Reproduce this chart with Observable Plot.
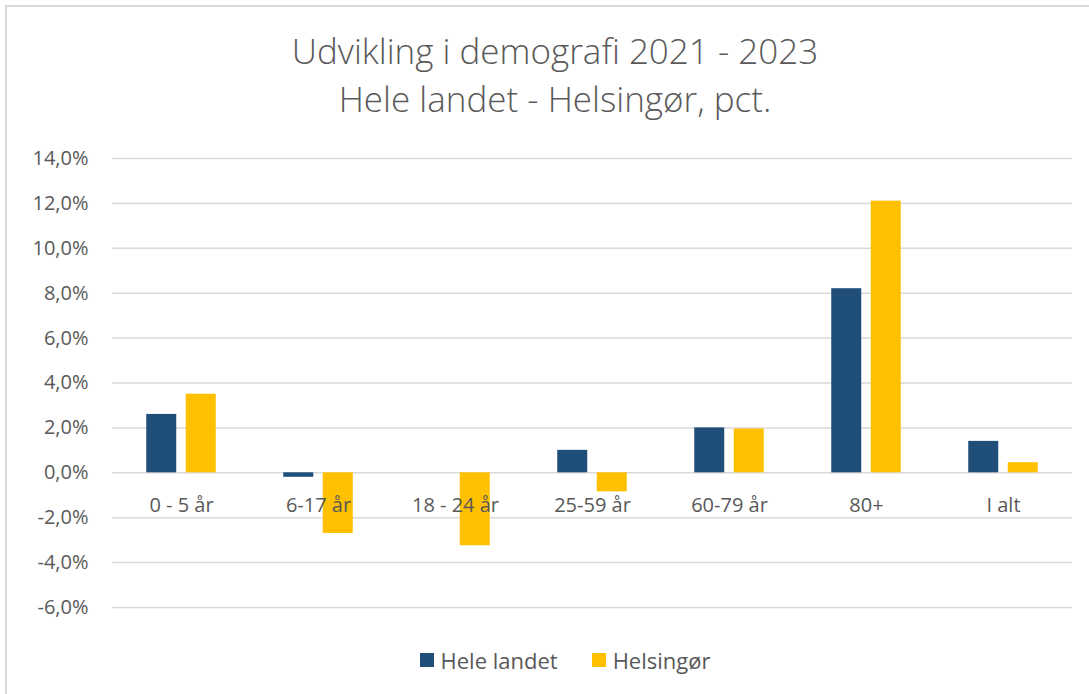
<!DOCTYPE html>
<html>
<head>
<meta charset="utf-8">
<script src="https://cdn.jsdelivr.net/npm/d3@7"></script>
<script src="https://cdn.jsdelivr.net/npm/@observablehq/plot@0.6"></script>
<style>
  html, body { margin: 0; padding: 0; background: #fff; }
  #chart { position: relative; width: 1089px; height: 694px; overflow: hidden; font-family: "Open Sans", Lato, sans-serif; color: #595959; }
  #frame { position: absolute; left: 5px; top: 5px; right: -10px; bottom: -10px; border-left: 2px solid #d9d9d9; border-top: 2px solid #d9d9d9; }
  #title { position: absolute; left: 0; width: 1110px; top: 27px; text-align: center; font-size: 35px; line-height: 48px; font-weight: 300; color: #595959; }
  #plot { position: absolute; left: 0; top: 130px; }
  #legend { position: absolute; top: 645px; left: 0; width: 1130px; display: flex; justify-content: center; gap: 34px; font-size: 22px; }
  .item { display: flex; align-items: center; gap: 7px; }
  .sw { width: 14px; height: 14px; display: inline-block; }
</style>
</head>
<body>
<div id="chart">
  <div id="frame"></div>
  <div id="title">Udvikling i demografi 2021 - 2023<br>Hele landet - Helsingør, pct.</div>
  <div id="plot"></div>
  <div id="legend"></div>
</div>
<script>
const categories = ["0 - 5 år", "6-17 år", "18 - 24 år", "25-59 år", "60-79 år", "80+", "I alt"];
const heleLandet = [2.6, -0.2, 0.0, 1.0, 2.0, 8.2, 1.4];
const helsingor = [3.5, -2.7, -3.25, -0.85, 1.95, 12.1, 0.45];
const seriesNames = ["Hele landet", "Helsingør"];
const seriesColors = ["#1f4e79", "#ffc000"];
const yTicks = [-6, -4, -2, 0, 2, 4, 6, 8, 10, 12, 14];

const heleRows = categories.map((c, i) => ({category: c, value: heleLandet[i]}));
const helsRows = categories.map((c, i) => ({category: c, value: helsingor[i]}));
const fmt = d => d.toFixed(1).replace(".", ",") + "%";

const chart = Plot.plot({
  width: 1089,
  height: 500,
  marginLeft: 112,
  marginRight: 17,
  marginTop: 28,
  marginBottom: 23,
  style: {fontFamily: "'Open Sans', Lato, sans-serif", fontSize: "20px", color: "#595959", background: "transparent"},
  x: {domain: categories, paddingInner: 0.778, paddingOuter: 0.389, axis: null},
  y: {domain: [-6, 14], axis: null},
  marks: [
    Plot.ruleY(yTicks, {stroke: "#d9d9d9", strokeWidth: 1.5}),
    Plot.axisY({ticks: yTicks, tickFormat: fmt, tickSize: 0, tickPadding: 24, label: null, fontSize: 20, fill: "#595959"}),
    Plot.barY(heleRows, {x: "category", y: "value", dx: -19.75, fill: seriesColors[0]}),
    Plot.barY(helsRows, {x: "category", y: "value", dx: 19.75, fill: seriesColors[1]}),
    Plot.text(categories, {x: d => d, y: () => 0, dy: 33, fill: "#595959", fontSize: 20})
  ]
});
document.getElementById("plot").appendChild(chart);

const legend = document.getElementById("legend");
seriesNames.forEach((n, i) => {
  const it = document.createElement("div");
  it.className = "item";
  it.innerHTML = `<span class="sw" style="background:${seriesColors[i]}"></span><span>${n}</span>`;
  legend.appendChild(it);
});
</script>
</body>
</html>
